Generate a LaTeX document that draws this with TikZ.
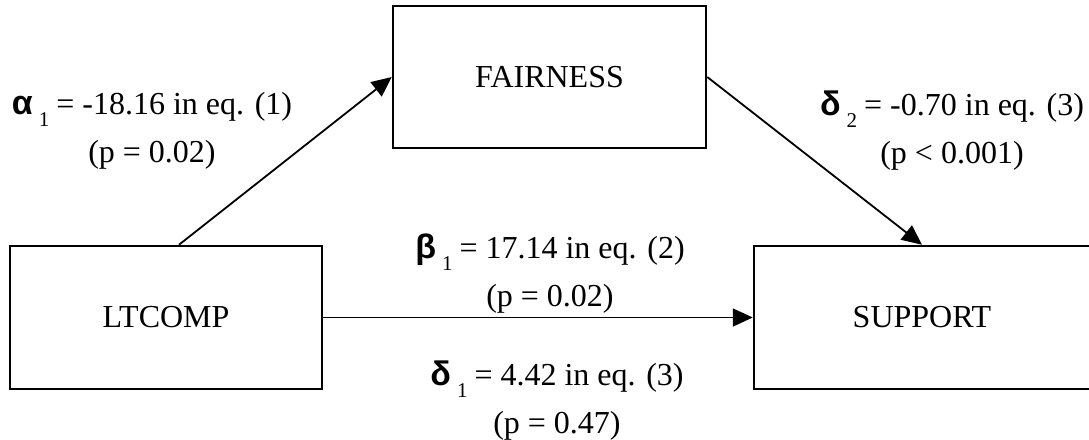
\documentclass[tikz,border=0pt]{standalone}
\usepackage{fontspec}
\setmainfont{Liberation Serif}
\newfontfamily\gk{Liberation Sans}
\usetikzlibrary{arrows.meta}
\newcommand\sbs[1]{\hspace{6pt}\raisebox{-12pt}{\fontsize{21}{21}\selectfont #1}\hspace{7pt}}
\newcommand\grk[1]{{\gk\bfseries\fontsize{34}{48}\selectfont #1}}
\tikzset{
  box/.style={draw, line width=2.5pt, inner sep=0pt, font=\fontsize{32}{48}\selectfont},
  lbl/.style={inner sep=0pt, align=center, font=\fontsize{32}{48}\selectfont},
  arr/.style={line width=1.8pt, -{Triangle[length=20pt,width=18pt]}}
}
\begin{document}
\begin{tikzpicture}[x=1pt,y=-1pt]
\useasboundingbox (0,0) rectangle (1089,439);
\clip (0,0) rectangle (1089,439);
\node[box, minimum width=312pt, minimum height=143pt] (L) at (166,317.5) {LTCOMP};
\node[box, minimum width=313pt, minimum height=142pt] (F) at (549.5,77) {FAIRNESS};
\node[box, minimum width=336pt, minimum height=143pt] (S) at (922,317.5) {SUPPORT};
\coordinate (Ls) at ([xshift=13pt]L.north);
\draw[arr] (Ls) -- (F.west);
\draw[arr] (F.east) -- (S.north);
\draw[arr] (L.east) -- (S.west);
\node[lbl] (la) at (152,131) {\grk{α}\sbs{1}= -18.16 in eq. (1)\\(p = 0.02)};
\node[lbl] (ld2) at (952,131) {\grk{δ}\sbs{2}= -0.70 in eq. (3)\\(p < 0.001)};
\node[lbl] (lb) at (550,274) {\grk{β}\sbs{1}= 17.14 in eq. (2)\\(p = 0.02)};
\node[lbl] (ld1) at (557,401) {\grk{δ}\sbs{1}= 4.42 in eq. (3)\\(p = 0.47)};
\end{tikzpicture}
\end{document}
